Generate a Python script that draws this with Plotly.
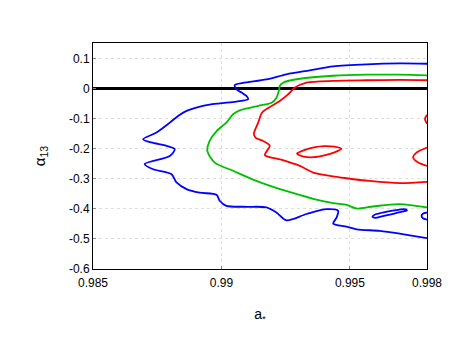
import plotly.graph_objects as go

# contour lines (a*, alpha13)
blue_x = [0.998, 0.99694, 0.99565, 0.99435, 0.99344, 0.99253, 0.99175, 0.99084, 0.99052, 0.99058,
          0.99078, 0.99097, 0.99104, 0.99058, 0.98993, 0.98928, 0.98864, 0.98831, 0.98799, 0.98747,
          0.98695, 0.98727, 0.98786, 0.98818, 0.98799, 0.98701, 0.98734, 0.98805, 0.98825, 0.98864,
          0.98915, 0.98981, 0.98993, 0.99019, 0.99097, 0.99175, 0.99214, 0.99253, 0.99331, 0.99409,
          0.99454, 0.99448, 0.99435, 0.99487, 0.99526, 0.99616, 0.99694, 0.998]
blue_y = [0.083, 0.084, 0.081, 0.074, 0.061, 0.048, 0.031, 0.019, 0.012, -0.002,
          -0.013, -0.024, -0.035, -0.043, -0.049, -0.057, -0.074, -0.091, -0.113, -0.146,
          -0.168, -0.179, -0.190, -0.201, -0.224, -0.251, -0.268, -0.284, -0.312, -0.334,
          -0.346, -0.353, -0.373, -0.390, -0.393, -0.395, -0.412, -0.438, -0.417, -0.401,
          -0.406, -0.429, -0.449, -0.459, -0.468, -0.473, -0.482, -0.497]
blue_loop_x = [0.99588, 0.9960, 0.9964, 0.9968, 0.9971, 0.99722, 0.9970, 0.9966, 0.9962, 0.9960, 0.99588]
blue_loop_y = [-0.426, -0.418, -0.410, -0.404, -0.401, -0.405, -0.410, -0.418, -0.426, -0.430, -0.426]
blue_edge_x = [0.998, 0.99784, 0.99779, 0.99784, 0.998]
blue_edge_y = [-0.412, -0.416, -0.423, -0.431, -0.436]

green_x = [0.998, 0.99694, 0.99565, 0.99435, 0.99305, 0.9924, 0.99227, 0.99223, 0.99214, 0.99195,
           0.99143, 0.99071, 0.99045, 0.99019, 0.98981, 0.98954, 0.98945, 0.98974, 0.99045, 0.99136,
           0.99227, 0.99305, 0.99357, 0.99435, 0.99487, 0.99528, 0.9959, 0.99694, 0.998]
green_y = [0.0445, 0.0465, 0.0465, 0.043, 0.033, 0.020, 0.009, -0.008, -0.030, -0.047,
           -0.057, -0.072, -0.085, -0.113, -0.141, -0.174, -0.207, -0.246, -0.273, -0.307,
           -0.334, -0.353, -0.367, -0.381, -0.387, -0.399, -0.392, -0.384, -0.395]

red_x = [0.998, 0.99694, 0.99565, 0.99435, 0.99331, 0.99285, 0.99259, 0.99227, 0.99175, 0.99157,
         0.99143, 0.99126, 0.99134, 0.99162, 0.99188, 0.99169, 0.99227, 0.99305, 0.99357, 0.99422,
         0.99487, 0.99577, 0.99694, 0.998]
red_y = [0.028, 0.029, 0.028, 0.026, 0.020, 0.003, -0.019, -0.041, -0.068, -0.081,
         -0.113, -0.151, -0.164, -0.174, -0.190, -0.221, -0.235, -0.257, -0.279, -0.290,
         -0.298, -0.307, -0.314, -0.310]
red_loop_x = [0.99294, 0.9932, 0.9936, 0.9940, 0.9944, 0.99467, 0.9944, 0.9940, 0.9936, 0.9932, 0.99294]
red_loop_y = [-0.216, -0.205, -0.195, -0.191, -0.193, -0.200, -0.212, -0.222, -0.228, -0.226, -0.216]
red_edge_x = [0.998, 0.99759, 0.99746, 0.99766, 0.998]
red_edge_y = [-0.196, -0.213, -0.229, -0.246, -0.257]
red_blip_x = [0.998, 0.99792, 0.998]
red_blip_y = [-0.087, -0.101, -0.117]

x_ticks = [0.985, 0.99, 0.995, 0.998]
x_labels = ['0.985', '0.99', '0.995', '0.998']
y_ticks = [0.1, 0, -0.1, -0.2, -0.3, -0.4, -0.5, -0.6]
y_labels = ['0.1', '0', '-0.1', '-0.2', '-0.3', '-0.4', '-0.5', '-0.6']

BLUE = 'rgb(0,0,255)'
GREEN = 'rgb(0,190,0)'
RED = 'rgb(255,0,0)'

fig = go.Figure()

lines = [
    (blue_x, blue_y, BLUE), (blue_loop_x, blue_loop_y, BLUE), (blue_edge_x, blue_edge_y, BLUE),
    (green_x, green_y, GREEN),
    (red_x, red_y, RED), (red_loop_x, red_loop_y, RED), (red_edge_x, red_edge_y, RED),
    (red_blip_x, red_blip_y, RED),
]
for xs, ys, col in lines:
    fig.add_trace(go.Scatter(x=xs, y=ys, mode='lines', showlegend=False,
                             line=dict(color=col, width=1.8, shape='spline', smoothing=0.8),
                             cliponaxis=True))

# page body adds an 8px offset, so margins are shifted to compensate
fig.update_layout(
    width=463, height=358,
    margin=dict(l=85, r=44, t=35, b=97),
    paper_bgcolor='white', plot_bgcolor='white',
    font=dict(family='Liberation Sans, Arial, sans-serif', size=12, color='black'),
    xaxis=dict(range=[0.985, 0.998], tickvals=x_ticks, ticktext=x_labels,
               showline=True, mirror=True, linecolor='black', linewidth=1,
               ticks='inside', ticklen=3, tickcolor='#888888', ticklabelstandoff=3,
               showgrid=True, gridcolor='#dddddd', griddash='dot', gridwidth=1,
               zeroline=False,
               title=dict(text='a<sub>*</sub>', font=dict(size=14), standoff=19)),
    yaxis=dict(range=[-0.6, 0.152], tickvals=y_ticks, ticktext=y_labels,
               showline=True, mirror=True, linecolor='black', linewidth=1,
               ticks='inside', ticklen=3, tickcolor='#888888',
               showgrid=True, gridcolor='#dddddd', griddash='dot', gridwidth=1,
               zeroline=True, zerolinecolor='black', zerolinewidth=2.5,
               title=dict(text='α<sub>13</sub>', font=dict(size=15), standoff=19)),
)

fig.write_html("out.html")
